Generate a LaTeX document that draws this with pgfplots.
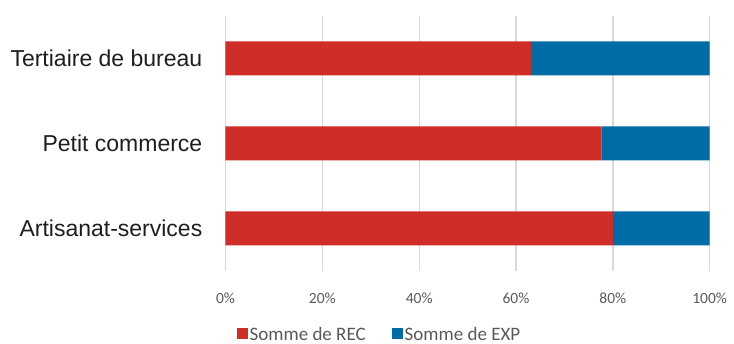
\documentclass[border=0pt]{standalone}
\usepackage{pgfplots}
\pgfplotsset{compat=1.18}
\usepackage{fontspec}
\setmainfont{Carlito}
\newfontfamily\arialf{Liberation Sans}
\definecolor{recred}{RGB}{207,45,39}
\definecolor{expblue}{RGB}{0,108,166}
\definecolor{ticktxt}{RGB}{89,89,89}
\definecolor{cattxt}{RGB}{30,30,30}
\definecolor{gridc}{RGB}{217,217,217}
\begin{document}
\begin{tikzpicture}
\useasboundingbox (0pt,0pt) rectangle (734pt,344pt);
\begin{axis}[
  at={(225.5pt,73pt)}, anchor=south west,
  width=484.2pt, height=255pt, scale only axis,
  xbar stacked, bar width=34pt,
  xmin=0, xmax=100, ymin=-0.5, ymax=2.5,
  ytick={0,1,2},
  yticklabels={Artisanat-services, Petit commerce, Tertiaire de bureau},
  xtick={0,20,40,60,80,100},
  xticklabels={0\%,20\%,40\%,60\%,80\%,100\%},
  axis line style={draw=none},
  major tick length=0pt,
  xmajorgrids, major grid style={gridc, line width=1.3pt},
  xticklabel style={font=\fontsize{15.5}{18}\selectfont, text=ticktxt, anchor=center, yshift=-27pt},
  yticklabel style={font=\arialf\fontsize{23}{27}\selectfont, text=cattxt, anchor=east, inner sep=0pt, xshift=-23pt},
  legend columns=2,
  legend style={at={(0.318,-0.247)}, anchor=center, draw=none, fill=none,
    font=\fontsize{19}{21}\selectfont, text=ticktxt,
    nodes={inner ysep=0.5pt, text depth=0pt},
    /tikz/every even column/.append style={column sep=24pt}},
  legend image code/.code={\fill[#1] (0pt,-5.5pt) rectangle (11pt,5.5pt);},
]
\addplot[fill=recred, draw=none] coordinates {(80,0) (77.7,1) (63.1,2)};
\addplot[fill=expblue, draw=none] coordinates {(20,0) (22.3,1) (36.9,2)};
\legend{Somme de REC, Somme de EXP}
\end{axis}
\end{tikzpicture}
\end{document}
